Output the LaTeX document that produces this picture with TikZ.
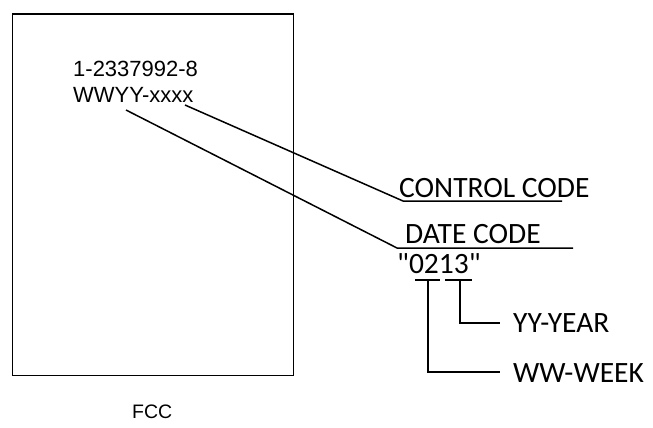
\documentclass[tikz,border=0pt]{standalone}
\usepackage{fontspec}
\setmainfont{Liberation Sans}
\newfontfamily\calfont{Carlito}
\begin{document}
\begin{tikzpicture}[x=1pt,y=-1pt,
  lbl/.style={inner sep=0pt, anchor=base west},
  arial/.style={lbl, font=\fontsize{22}{26}\selectfont},
  cal/.style={lbl, font=\calfont\fontsize{29.5}{34}\selectfont},
  ln/.style={line width=1.5pt, line join=miter}]
\useasboundingbox (0,0) rectangle (653,428);
\node (box) [draw, line width=1.8pt, inner sep=0pt, minimum width=281pt, minimum height=361pt, anchor=north west] at (11.5,13.5) {};
\node[arial] (pn) at (73,77) {1-2337992-8};
\node[arial] (wc) at (73,102) {WWYY-xxxx};
\node[lbl, font=\fontsize{19.5}{23}\selectfont] (fcc) at (132,418) {FCC};
\node[cal] (cc) at (399,197) {CONTROL CODE};
\node[cal] (dc) at (405,243) {DATE CODE};
\node[cal] (code) at (397,273) {"0213"};
\node[cal] (yy) at (513,332) {YY-YEAR};
\node[cal] (ww) at (513,382) {WW-WEEK};
\coordinate (s1) at (126,110);
\coordinate (s2) at (185,105);
\coordinate (c1) at (403,201);
\coordinate (c2) at (562,201);
\coordinate (d1) at (397,248);
\coordinate (d2) at (573,248);
\coordinate (u1a) at (415,280);
\coordinate (u1b) at (440,280);
\coordinate (u2a) at (445,280);
\coordinate (u2b) at (472,280);
\coordinate (w0) at (428,280);
\coordinate (y0) at (460,280);
\coordinate (we) at (500,372);
\coordinate (ye) at (500,323);
\draw[ln] (s2) -- (c1) -- (c2);
\draw[ln] (s1) -- (d1) -- (d2);
\draw[ln] (u1a) -- (u1b);
\draw[ln] (u2a) -- (u2b);
\draw[ln] (w0) |- (we);
\draw[ln] (y0) |- (ye);
\end{tikzpicture}
\end{document}
